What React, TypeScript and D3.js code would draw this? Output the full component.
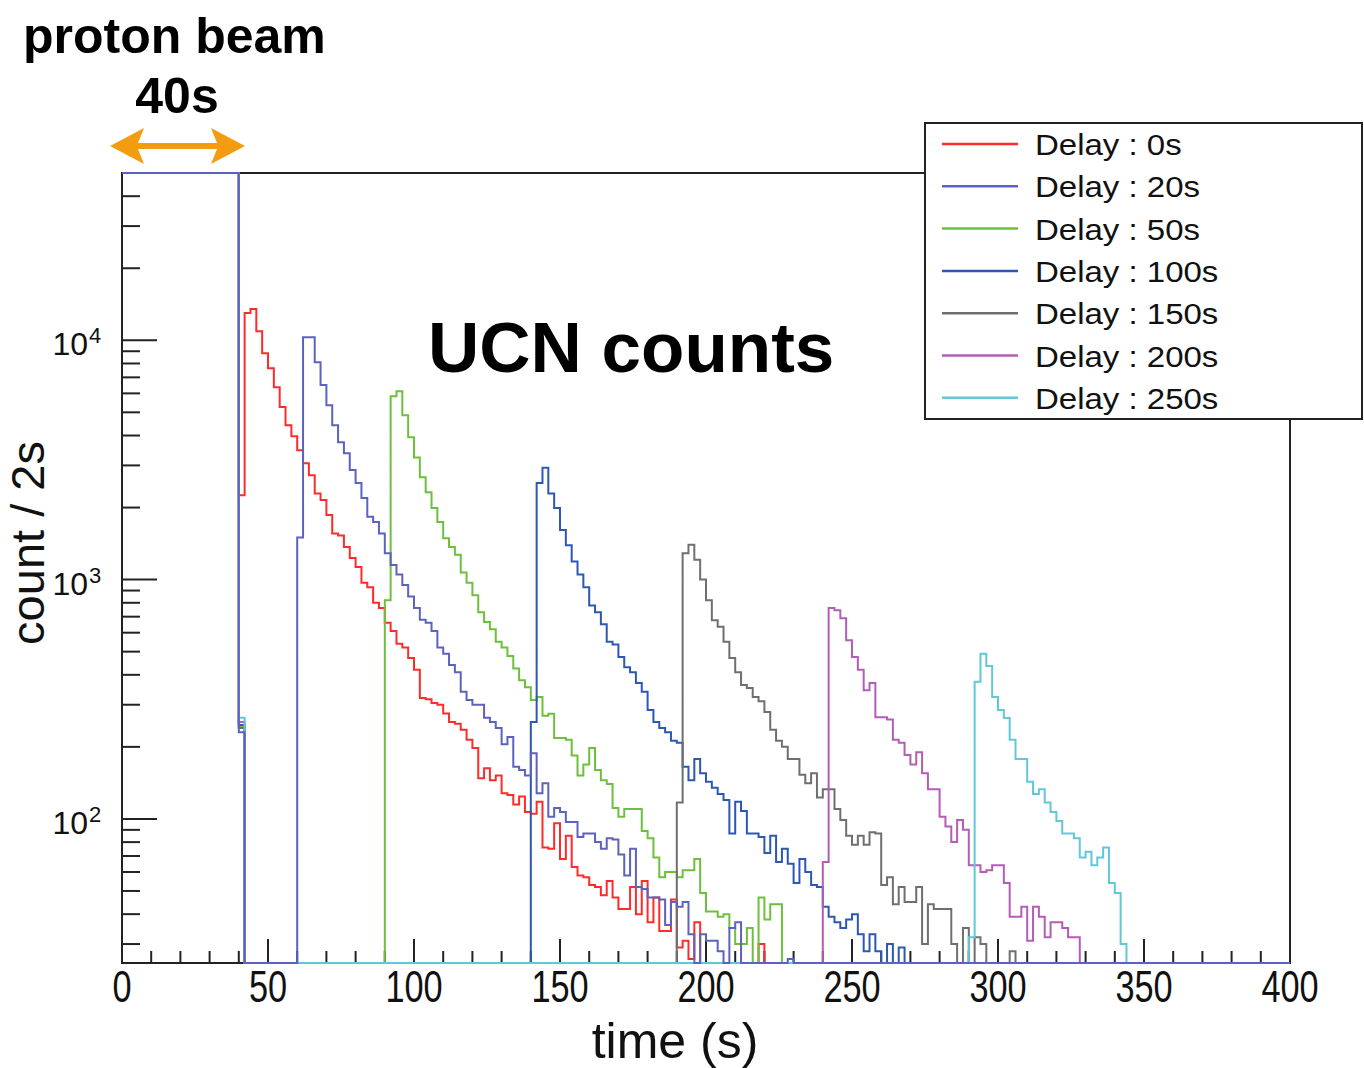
import * as React from "react";
import * as d3 from "d3";

const W = 1364;
const H = 1068;
const FONT = "'Liberation Sans', Arial, Helvetica, sans-serif";

// plot frame in page pixels
const FRAME = { left: 122, right: 1290, top: 173, bottom: 963 };

const BIN = 2; // seconds per bin
const T_MAX = 400;
const Y_MIN = 25;
const Y_MAX = 50000;

const DELAYS = ["0s", "20s", "50s", "100s", "150s", "200s", "250s"];
const COLORS = ["#ff2b2b", "#5c62c0", "#6cc03c", "#2c58b4", "#6f6f6f", "#b35db6", "#62c8d8"];

// proton beam on (0-40 s): far above the frame, gets clipped at the top
const BEAM_COUNTS = [
  1e5, 1e5, 1e5, 1e5, 1e5, 1e5, 1e5, 1e5, 1e5, 1e5,
  1e5, 1e5, 1e5, 1e5, 1e5, 1e5, 1e5, 1e5, 1e5, 1e5,
];
// the 40-42 s bin right after the beam stops
const GATE_BIN = [2250, 230, 243, 247, 240, 254, 265];
// time (s) of the first bin of each counts array below
const OPEN_AT = [42, 60, 90, 140, 190, 240, 290];

const COUNTS_0S = [
  13000, 13500, 10900, 8830, 7640, 6370, 5260, 4420, 3970, 3470,
  3060, 2730, 2290, 2150, 1860, 1560, 1530, 1370, 1230, 1130,
  970, 930, 800, 760, 660, 610, 540, 520, 470, 420,
  320, 316, 305, 300, 276, 254, 250, 236, 214, 198,
  148, 163, 145, 152, 128, 126, 115, 124, 107, 105,
  118, 76, 75, 96, 68, 85, 63, 58, 57, 53,
  52, 48, 55, 47, 42, 42, 52, 40, 55, 37,
  47, 34, 34, 46, 29, 31, 26, 37,
  0, 0, 0, 0, 0, 0, 0, 0, 0, 0,
  30,
];
const COUNTS_20S = [
  1500, 10300, 10300, 8100, 6500, 5350, 4420, 3750, 3370, 2870,
  2530, 2190, 1830, 1740, 1560, 1290, 1150, 1050, 950, 850,
  760, 680, 660, 610, 520, 490, 440, 410, 340, 314,
  300, 300, 265, 254, 240, 205, 220, 165, 160, 152,
  188, 128, 141, 102, 111, 107, 97, 97, 84, 87,
  87, 80, 75, 83, 82, 71, 58, 75, 52, 51,
  47, 47, 46, 36, 45, 43, 45, 33, 0, 33,
  31, 31, 28, 0, 35, 37, 0, 0, 0, 0,
  0, 0, 0, 0, 26,
];
const COUNTS_50S = [
  820, 5840, 6130, 4860, 3930, 3240, 2680, 2320, 1990, 1740,
  1490, 1370, 1270, 1070, 970, 860, 730, 665, 620, 550,
  520, 480, 425, 380, 355, 314, 323, 270, 275, 218,
  218, 214, 184, 152, 169, 198, 160, 145, 140, 111,
  102, 110, 110, 110, 89, 83, 69, 57, 60, 60,
  57, 61, 61, 68, 49, 41, 41, 39, 40, 35,
  30, 30, 35, 0, 47, 38, 44, 44,
];
const COUNTS_100S = [
  254, 2530, 2930, 2290, 1990, 1610, 1390, 1190, 1050, 930,
  780, 730, 650, 550, 535, 475, 430, 410, 370, 340,
  285, 254, 240, 230, 212, 208, 165, 145, 178, 155,
  143, 135, 127, 120, 87, 118, 108, 87, 87, 84,
  72, 85, 66, 75, 65, 54, 68, 60, 53, 52,
  43, 39, 37, 35, 38, 40, 33, 28, 33, 28,
  0, 30, 0, 29,
];
const COUNTS_150S = [
  117, 1290, 1400, 1210, 1000, 820, 677, 635, 550, 470,
  410, 363, 352, 323, 310, 280, 236, 212, 200, 178,
  178, 153, 141, 155, 123, 133, 133, 110, 99, 85,
  78, 85, 78, 88, 87, 53, 57, 44, 52, 45,
  45, 52, 30, 44, 42, 42, 42, 30, 0, 35,
  0, 32, 30, 0, 0, 0, 0, 28,
];
const COUNTS_200S = [
  66, 760, 745, 690, 558, 475, 420, 345, 370, 266,
  266, 260, 214, 208, 185, 169, 190, 155, 133, 133,
  102, 93, 80, 99, 90, 64, 64, 60, 61, 64,
  64, 54, 39, 39, 43, 31, 43, 39, 32, 37,
  37, 35, 32, 32,
];
const COUNTS_250S = [
  32, 374, 490, 435, 323, 285, 264, 214, 178, 178,
  143, 127, 133, 117, 107, 98, 87, 87, 83, 69,
  73, 64, 69, 76, 54, 49, 30,
];

const COUNTS = [COUNTS_0S, COUNTS_20S, COUNTS_50S, COUNTS_100S, COUNTS_150S, COUNTS_200S, COUNTS_250S];
// the 20 s run ends up on top (its outline covers the others along the frame)
const DRAW_ORDER = [0, 2, 3, 4, 5, 6, 1];

const X_TICK_LABELS = ["0", "50", "100", "150", "200", "250", "300", "350", "400"];
const Y_DECADES = [2, 3, 4];

function binsFor(i: number): number[] {
  const out: number[] = new Array(T_MAX / BIN).fill(0);
  BEAM_COUNTS.forEach((v, k) => (out[k] = v));
  out[BEAM_COUNTS.length] = GATE_BIN[i];
  const first = OPEN_AT[i] / BIN;
  COUNTS[i].forEach((v, k) => (out[first + k] = v));
  return out;
}

export default function App() {
  const x = d3.scaleLinear().domain([0, T_MAX]).range([FRAME.left, FRAME.right]);
  const y = d3.scaleLog().domain([Y_MIN, Y_MAX]).range([FRAME.bottom, FRAME.top]);
  const yc = (v: number) => (v <= Y_MIN ? FRAME.bottom : v >= Y_MAX ? FRAME.top : y(v));
  const line = d3.line<[number, number]>();

  const paths = DELAYS.map((_, i) => {
    const pts: [number, number][] = [];
    binsFor(i).forEach((v, k) => {
      pts.push([x(k * BIN), yc(v)], [x((k + 1) * BIN), yc(v)]);
    });
    return line(pts) ?? "";
  });

  const xTicks = d3.range(0, T_MAX + 1, 10);
  const yTicks: { v: number; major: boolean }[] = [];
  for (let e = 1; e <= 4; e++) {
    for (let k = 1; k <= 9; k++) {
      const v = k * Math.pow(10, e);
      if (v >= Y_MIN && v <= Y_MAX) yTicks.push({ v, major: k === 1 });
    }
  }

  const legendTop = 144;
  const legendStep = 42.3;

  return (
    <svg width={W} height={H} style={{ display: "block", background: "#fff" }} fontFamily={FONT}>
      <style>{"body{margin:0}"}</style>
      <rect x={0} y={0} width={W} height={H} fill="#fff" />

      {/* frame */}
      <rect
        x={FRAME.left}
        y={FRAME.top}
        width={FRAME.right - FRAME.left}
        height={FRAME.bottom - FRAME.top}
        fill="none"
        stroke="#222"
        strokeWidth={2}
      />

      {/* x ticks */}
      {xTicks.map((t) => {
        const major = t % 50 === 0;
        return (
          <line
            key={"xt" + t}
            x1={x(t)}
            x2={x(t)}
            y1={FRAME.bottom}
            y2={FRAME.bottom - (major ? 24 : 12)}
            stroke="#222"
            strokeWidth={2}
          />
        );
      })}
      {X_TICK_LABELS.map((s) => (
        <text
          key={"xl" + s}
          transform={`translate(${x(+s)},1002) scale(0.78,1)`}
          textAnchor="middle"
          fontSize={44}
          fill="#111"
        >
          {s}
        </text>
      ))}

      {/* y ticks */}
      {yTicks.map((d) => (
        <line
          key={"yt" + d.v}
          x1={FRAME.left}
          x2={FRAME.left + (d.major ? 35 : 18)}
          y1={y(d.v)}
          y2={y(d.v)}
          stroke="#222"
          strokeWidth={2}
        />
      ))}
      {Y_DECADES.map((e) => (
        <g key={"yl" + e} fill="#111">
          <text x={88} y={y(Math.pow(10, e)) + 15} textAnchor="end" fontSize={32}>
            10
          </text>
          <text x={89} y={y(Math.pow(10, e)) + 3} fontSize={22}>
            {e}
          </text>
        </g>
      ))}

      {/* axis titles */}
      <text x={675} y={1058} textAnchor="middle" fontSize={50} fill="#111">
        time (s)
      </text>
      <text transform="translate(44,543) rotate(-90)" textAnchor="middle" fontSize={47} fill="#111">
        count / 2s
      </text>

      {/* histograms */}
      {DRAW_ORDER.map((i) => (
        <path key={"h" + i} d={paths[i]} fill="none" stroke={COLORS[i]} strokeWidth={2} strokeLinejoin="miter" />
      ))}

      {/* legend */}
      <rect x={925} y={123} width={437} height={296} fill="#fff" stroke="#222" strokeWidth={2} />
      {DELAYS.map((d, i) => {
        const ly = legendTop + legendStep * i;
        return (
          <g key={"lg" + d}>
            <line x1={942} x2={1018} y1={ly} y2={ly} stroke={COLORS[i]} strokeWidth={2.5} />
            <text transform={`translate(1035,${ly + 11}) scale(1.1,1)`} fontSize={30} fill="#111">
              {`Delay : ${d}`}
            </text>
          </g>
        );
      })}

      {/* annotations */}
      <text x={428} y={372} fontSize={71} fontWeight={700} fill="#000">
        UCN counts
      </text>
      <text x={23} y={53} fontSize={50} fontWeight={700} fill="#000">
        proton beam
      </text>
      <text x={177} y={113} textAnchor="middle" fontSize={50} fontWeight={700} fill="#000">
        40s
      </text>
      <polygon
        points="110,146 144,128 138,143 217,143 211,128 245,146 211,164 217,149 138,149 144,164"
        fill="#f39c12"
      />
    </svg>
  );
}
